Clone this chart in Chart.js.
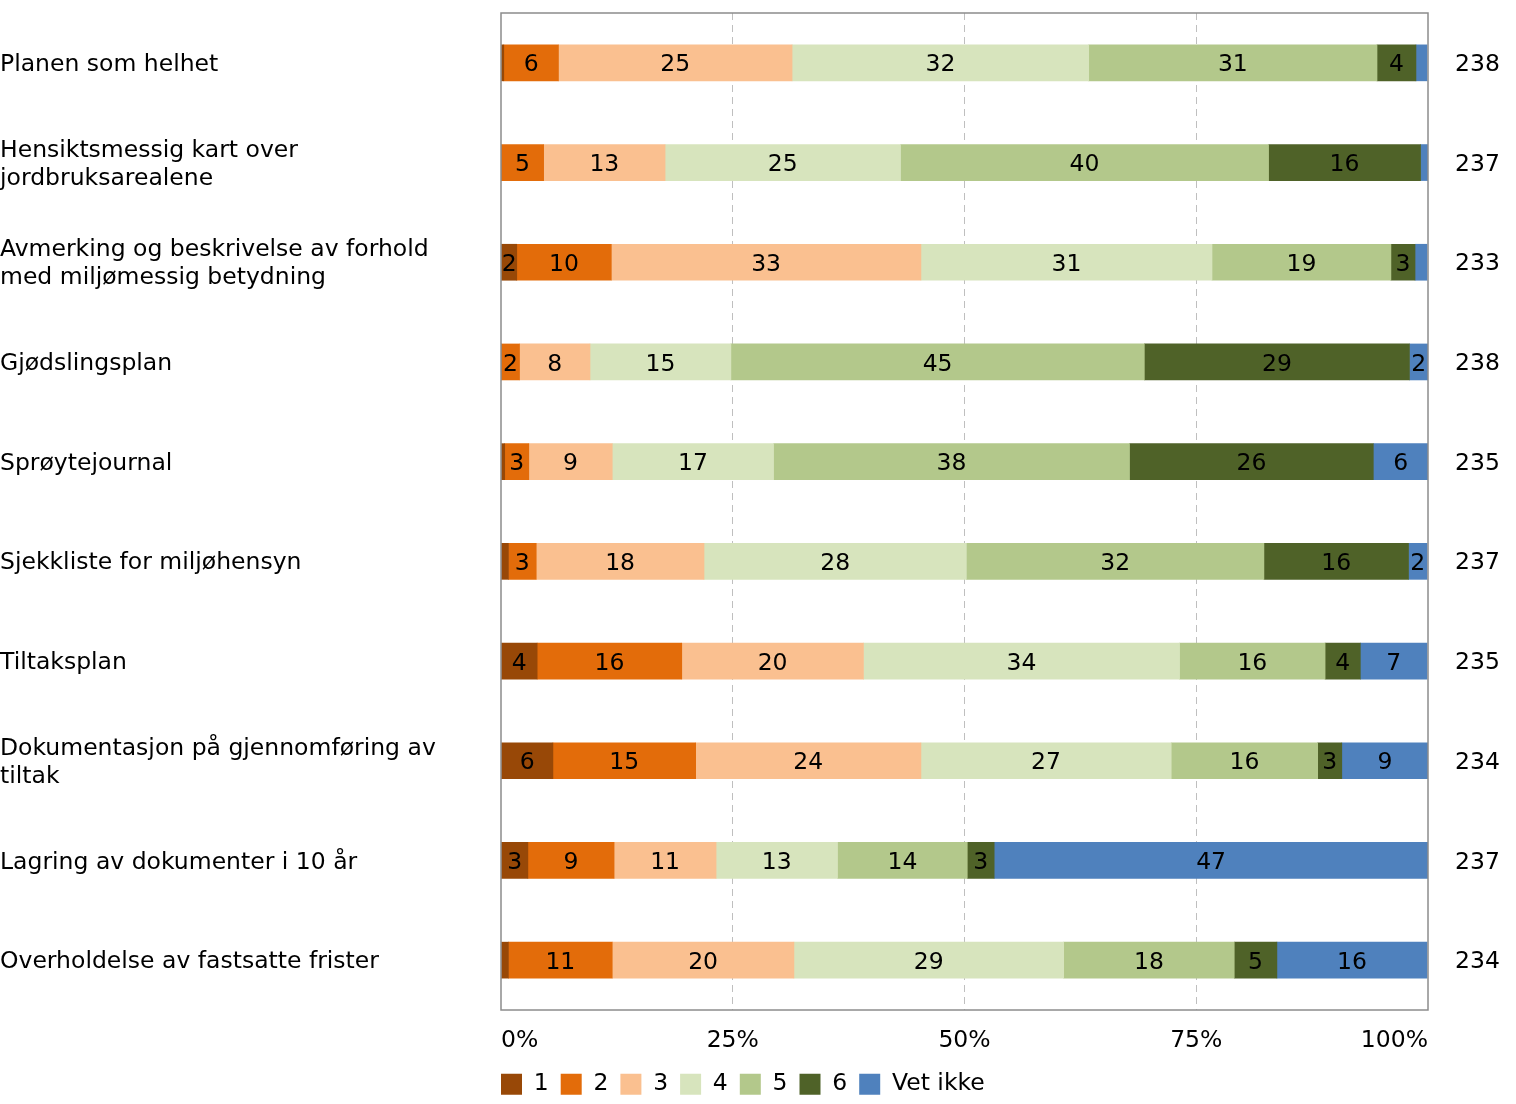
<!DOCTYPE html>
<html>
<head>
<meta charset="utf-8">
<script src="https://cdn.jsdelivr.net/npm/chart.js@4/dist/chart.umd.min.js"></script>
<style>
    html, body { margin: 0; padding: 0; background: #fff; }
    #wrap { width: 1516px; height: 1104px; }
</style>
</head>
<body>
<div id="wrap"><canvas id="surveyChart" width="1516" height="1104"></canvas></div>
<script>
// Chart data
const categories = [
    'Planen som helhet',
    ['Hensiktsmessig kart over', 'jordbruksarealene'],
    ['Avmerking og beskrivelse av forhold', 'med miljømessig betydning'],
    'Gjødslingsplan',
    'Sprøytejournal',
    'Sjekkliste for miljøhensyn',
    'Tiltaksplan',
    ['Dokumentasjon på gjennomføring av', 'tiltak'],
    'Lagring av dokumenter i 10 år',
    'Overholdelse av fastsatte frister'
];
const respondents = ['238', '237', '233', '238', '235', '237', '235', '234', '237', '234'];

const seriesNames = ['1', '2', '3', '4', '5', '6', 'Vet ikke'];
const seriesColors = ['#984807', '#e36c0a', '#fac090', '#d7e4bd', '#b3c88b', '#4f6228', '#4f81bd'];

const score1 = [0.3, 0, 1.7, 0, 0.4, 0.8, 3.9, 5.6, 2.9, 0.8];
const score2 = [5.9, 4.6, 10.2, 2.0, 2.6, 3.0, 15.6, 15.4, 9.3, 11.2];
const score3 = [25.2, 13.1, 33.4, 7.6, 9.0, 18.1, 19.6, 24.3, 11.0, 19.6];
const score4 = [32.0, 25.4, 31.4, 15.2, 17.4, 28.3, 34.1, 27.0, 13.1, 29.1];
const score5 = [31.1, 39.7, 19.3, 44.6, 38.4, 32.1, 15.7, 15.8, 14.0, 18.4];
const score6 = [4.2, 16.4, 2.6, 28.6, 26.3, 15.6, 3.8, 2.6, 2.9, 4.6];
const dontKnow = [1.2, 0.9, 1.3, 2.0, 5.9, 2.0, 7.2, 9.3, 46.8, 16.2];

const seriesValues = [score1, score2, score3, score4, score5, score6, dontKnow];
const xTicks = [0, 25, 50, 75, 100];

const fontFamily = '"DejaVu Sans", Verdana, sans-serif';
const fontSize = 23.5;

// Draw value labels in the middle of each segment
const segmentLabels = {
    id: 'segmentLabels',
    afterDatasetsDraw(chart) {
        const ctx = chart.ctx;
        ctx.save();
        ctx.font = fontSize + 'px ' + fontFamily;
        ctx.fillStyle = '#000';
        ctx.textAlign = 'center';
        ctx.textBaseline = 'middle';
        chart.data.datasets.forEach((ds, di) => {
            const meta = chart.getDatasetMeta(di);
            meta.data.forEach((bar, i) => {
                const v = Math.round(ds.data[i]);
                if (v < 2) return;
                ctx.fillText(String(v), (bar.x + bar.base) / 2, bar.y + 2.5);
            });
        });
        ctx.restore();
    }
};

// Frame around the plot area, and legend moved to the plot's left edge
const plotFrame = {
    id: 'plotFrame',
    afterLayout(chart) {
        const lg = chart.legend;
        const pad = lg.options.labels.padding;
        lg.left -= pad;
        lg.right -= pad;
    },
    afterDraw(chart) {
        const a = chart.chartArea;
        const ctx = chart.ctx;
        ctx.save();
        ctx.strokeStyle = '#8c8c8c';
        ctx.lineWidth = 1.5;
        ctx.strokeRect(a.left, a.top, a.right - a.left, a.bottom - a.top);
        ctx.restore();
    }
};

// No extra room above/below the category axes
function fitCategoryAxis(width) {
    return s => {
        s.width = width;
        s.paddingTop = 0;
        s.paddingBottom = 0;
    };
}

// Create Chart
function createChart() {
    const ctx = document.getElementById('surveyChart').getContext('2d');
    Chart.defaults.font.family = fontFamily;
    Chart.defaults.font.size = fontSize;
    Chart.defaults.color = '#000';

    new Chart(ctx, {
        type: 'bar',
        data: {
            labels: categories,
            datasets: seriesNames.map((name, i) => ({
                label: name,
                data: seriesValues[i],
                backgroundColor: seriesColors[i],
                borderWidth: 0,
                barThickness: 36
            }))
        },
        options: {
            indexAxis: 'y',
            responsive: false,
            animation: false,
            layout: { padding: { top: 13, bottom: -2, left: 0, right: 0 } },
            scales: {
                x: {
                    stacked: true,
                    min: 0,
                    max: 100,
                    afterBuildTicks: s => { s.ticks = xTicks.map(v => ({ value: v })); },
                    ticks: {
                        callback: v => v + '%',
                        align: 'inner',
                        padding: 17,
                        maxRotation: 0
                    },
                    grid: {
                        drawTicks: false,
                        color: c => (c.tick && (c.tick.value === 0 || c.tick.value === 100)) ? 'rgba(0,0,0,0)' : '#bfbfbf',
                        lineWidth: 1
                    },
                    border: { display: false, dash: [7, 5] },
                    afterFit: s => { s.height = 50.5; }
                },
                y: {
                    stacked: true,
                    ticks: { crossAlign: 'far', padding: 0, labelOffset: 2, font: { lineHeight: 1.2 } },
                    grid: { display: false },
                    border: { display: false },
                    afterFit: fitCategoryAxis(501)
                },
                y2: {
                    type: 'category',
                    position: 'right',
                    labels: respondents,
                    offset: true,
                    ticks: { padding: 19, labelOffset: 2 },
                    grid: { display: false },
                    border: { display: false },
                    afterFit: fitCategoryAxis(88)
                }
            },
            plugins: {
                legend: {
                    position: 'bottom',
                    align: 'start',
                    fullSize: false,
                    labels: {
                        boxWidth: 21,
                        boxHeight: 21,
                        padding: 12,
                        color: '#000'
                    }
                },
                tooltip: { enabled: false }
            }
        },
        plugins: [segmentLabels, plotFrame]
    });
}

createChart();
</script>
</body>
</html>
